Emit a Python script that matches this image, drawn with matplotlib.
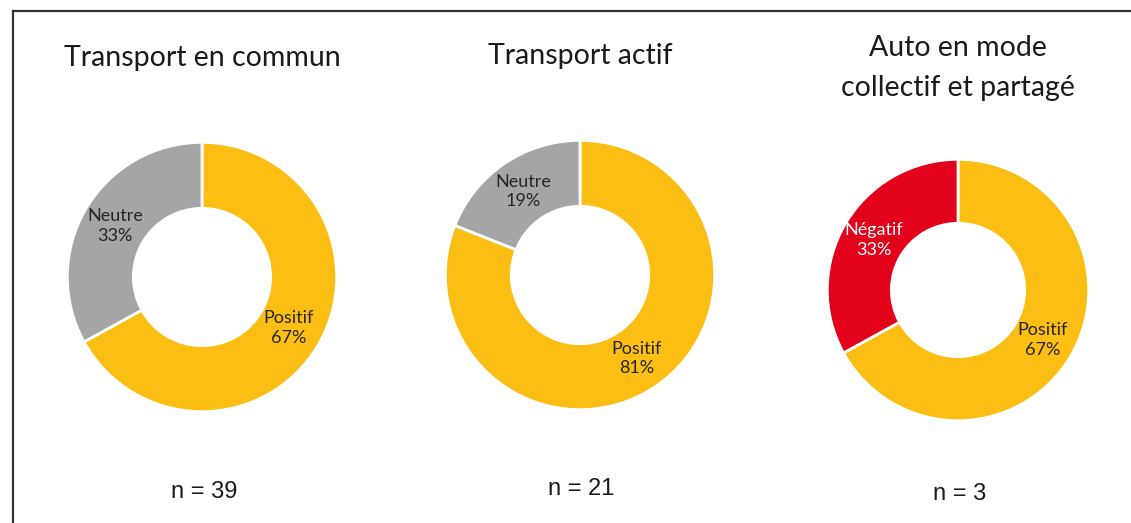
import matplotlib
matplotlib.use('Agg')
import numpy as np
from matplotlib import pyplot as plt
from matplotlib.lines import Line2D

# data
titles = ['Transport en commun', 'Transport actif', 'Auto en mode\ncollectif et partagé']
labels = [['Positif', 'Neutre'], ['Positif', 'Neutre'], ['Positif', 'Négatif']]
values = [[67, 33], [81, 19], [67, 33]]
n_counts = [39, 21, 3]

YELLOW = '#FDBE14'
GREY = '#A5A5A5'
RED = '#E2001A'
colors = [[YELLOW, GREY], [YELLOW, GREY], [YELLOW, RED]]
label_colors = [['#262626', '#262626'], ['#262626', '#262626'], ['#262626', 'white']]

W, H = 1131, 523
fig = plt.figure(figsize=(W / 100, H / 100), dpi=100, facecolor='white')

# donut centres / radius in pixels (from top-left)
centres = [(202, 277, 136), (580, 275, 136), (958, 290, 132)]
title_y = [58, 56, 68]
n_y = [492, 489, 494]
n_x = [204, 581, 960]

for i in range(3):
    cx, cy, r = centres[i]
    ax = fig.add_axes([(cx - r) / W, (H - cy - r) / H, 2 * r / W, 2 * r / H])
    ax.pie(values[i], colors=colors[i], startangle=90, counterclock=False,
           radius=1, wedgeprops=dict(width=0.49, edgecolor='white', linewidth=2))
    ax.set_xlim(-1.01, 1.01)
    ax.set_ylim(-1.01, 1.01)
    ax.set_aspect('equal')
    ax.axis('off')

    # labels in the middle of the ring
    total = sum(values[i])
    start = 0
    for v, lab, col in zip(values[i], labels[i], label_colors[i]):
        mid = (start + v / 2) / total * 360
        ang = np.deg2rad(90 - mid)
        ax.text(0.75 * np.cos(ang), 0.75 * np.sin(ang), f'{lab}\n{v}%',
                ha='center', va='center', fontsize=13, color=col,
                family=['Lato', 'DejaVu Sans'], linespacing=1.3)
        start += v

    fig.text(cx / W, 1 - title_y[i] / H, titles[i], ha='center', va='center',
             fontsize=20.5, color='#1a1a1a', family=['Lato', 'DejaVu Sans'], linespacing=1.7)
    fig.text(n_x[i] / W, 1 - n_y[i] / H, f'n = {n_counts[i]}', ha='center', va='center',
             fontsize=17, color='#1a1a1a', family=['Liberation Sans', 'DejaVu Sans'])

# frame lines on top and left
fig.add_artist(Line2D([13 / W, 1], [1 - 11 / H, 1 - 11 / H], color='#333333', linewidth=1.6))
fig.add_artist(Line2D([13 / W, 13 / W], [0, 1 - 11 / H], color='#333333', linewidth=1.6))

fig.savefig('out.png', dpi=100, facecolor='white')
